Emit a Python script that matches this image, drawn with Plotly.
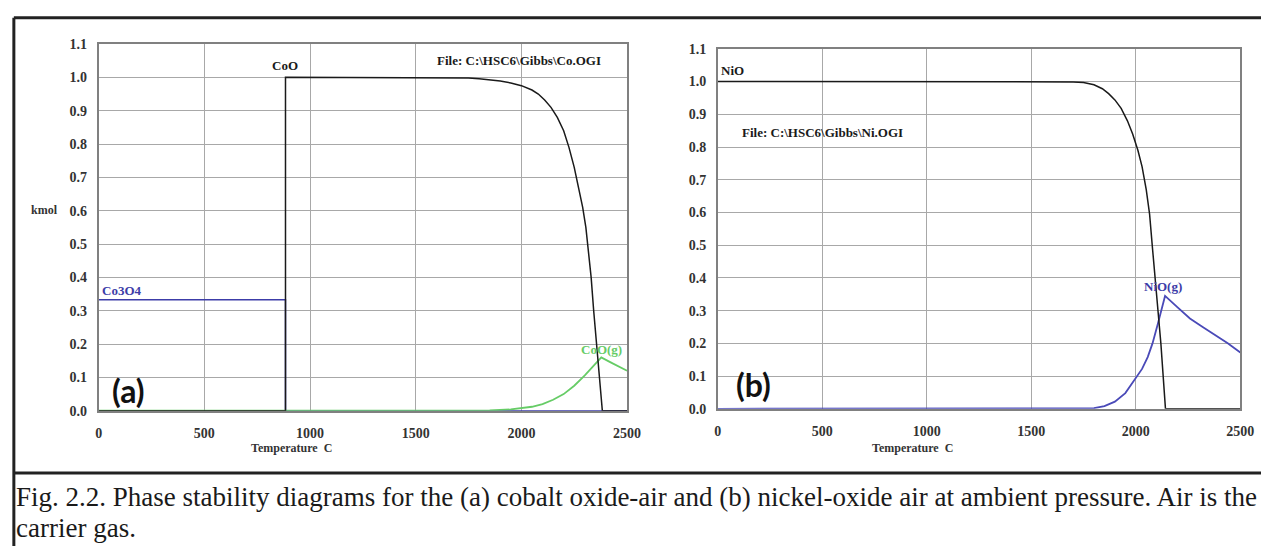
import plotly.graph_objects as go

# reference frame: 1275 x 554 pixels; everything is placed in paper fractions
W, H = 1275, 554

# ---------------- data (a) Co-O system ----------------
T_coo = [0, 884, 884, 1600, 1700, 1750, 1800, 1850, 1900, 1950, 2000, 2050, 2080, 2110, 2140, 2170, 2200, 2225, 2250, 2270, 2290, 2305, 2318, 2330, 2342, 2355, 2368, 2383, 2500]
coo = [0, 0, 1.0, 1.0, 0.999, 0.998, 0.996, 0.993, 0.989, 0.983, 0.975, 0.962, 0.950, 0.932, 0.91, 0.88, 0.84, 0.79, 0.73, 0.67, 0.61, 0.55, 0.48, 0.40, 0.30, 0.20, 0.10, 0.0, 0.0]

T_co3o4 = [0, 884, 884, 2500]
co3o4 = [0.333, 0.333, 0.0, 0.0]

T_coog = [0, 1750, 1850, 1950, 2000, 2050, 2100, 2150, 2200, 2250, 2300, 2340, 2378, 2420, 2460, 2500]
coog = [0, 0, 0.001, 0.004, 0.007, 0.012, 0.02, 0.033, 0.05, 0.075, 0.106, 0.135, 0.16, 0.146, 0.133, 0.12]

# ---------------- data (b) Ni-O system ----------------
T_nio = [0, 1600, 1700, 1750, 1800, 1840, 1870, 1900, 1930, 1960, 1985, 2010, 2030, 2050, 2066, 2080, 2094, 2108, 2120, 2131, 2142, 2500]
nio = [1.0, 1.0, 0.999, 0.997, 0.99, 0.978, 0.963, 0.944, 0.918, 0.88, 0.84, 0.79, 0.74, 0.67, 0.595, 0.49, 0.395, 0.30, 0.20, 0.10, 0.0, 0.0]

T_niog = [0, 1750, 1800, 1850, 1900, 1950, 2000, 2030, 2057, 2080, 2104, 2125, 2140, 2200, 2259, 2320, 2387, 2440, 2500]
niog = [0, 0, 0.002, 0.008, 0.022, 0.048, 0.092, 0.122, 0.158, 0.2, 0.256, 0.31, 0.345, 0.31, 0.276, 0.25, 0.223, 0.2, 0.172]

x_ticks = [0, 500, 1000, 1500, 2000, 2500]
y_ticks = [0.0, 0.1, 0.2, 0.3, 0.4, 0.5, 0.6, 0.7, 0.8, 0.9, 1.0, 1.1]

caption1 = "Fig. 2.2. Phase stability diagrams for the (a) cobalt oxide-air and (b) nickel-oxide air at ambient pressure. Air is the"
caption2 = "carrier gas."


def px(x):
    return x / W


def py(y):
    return 1 - y / H


BLACK = "#1a1a1a"
BLUE = "#3c3ca8"
GREEN = "#66cc66"
GRID = "#a8a8a8"
SERIF = "Liberation Serif"

fig = go.Figure()

# panel (a)
fig.add_trace(go.Scatter(x=T_co3o4, y=co3o4, mode="lines", line=dict(color=BLUE, width=1.5), xaxis="x", yaxis="y", showlegend=False))
fig.add_trace(go.Scatter(x=T_coog, y=coog, mode="lines", line=dict(color=GREEN, width=1.8), xaxis="x", yaxis="y", showlegend=False))
fig.add_trace(go.Scatter(x=T_coo, y=coo, mode="lines", line=dict(color=BLACK, width=1.5), xaxis="x", yaxis="y", showlegend=False))

# panel (b)
fig.add_trace(go.Scatter(x=T_niog, y=niog, mode="lines", line=dict(color="#4a4ab8", width=1.8), xaxis="x2", yaxis="y2", showlegend=False))
fig.add_trace(go.Scatter(x=T_nio, y=nio, mode="lines", line=dict(color=BLACK, width=1.5), xaxis="x2", yaxis="y2", showlegend=False))

tickfont = dict(family=SERIF, size=14, color="#333333", weight="bold")

axis_common = dict(
    showgrid=True, gridcolor=GRID, gridwidth=1,
    showline=True, linecolor="#808080", linewidth=1.5, mirror=True,
    zeroline=False, ticks="", tickfont=tickfont,
)

fig.update_layout(
    width=W, height=H,
    margin=dict(l=0, r=0, t=0, b=0),
    paper_bgcolor="white", plot_bgcolor="white",
    xaxis=dict(domain=[px(96), px(632)], range=[0, 2500], tickvals=x_ticks, anchor="y", ticklabelstandoff=9, **axis_common),
    yaxis=dict(domain=[py(415), py(38)], range=[0, 1.1], tickvals=y_ticks, tickformat=".1f", anchor="x", ticklabelstandoff=7, **axis_common),
    xaxis2=dict(domain=[px(724), px(1254)], range=[0, 2500], tickvals=x_ticks, anchor="y2", ticklabelstandoff=9, **axis_common),
    yaxis2=dict(domain=[py(413), py(43)], range=[0, 1.1], tickvals=y_ticks, tickformat=".1f", anchor="x2", ticklabelstandoff=7, **axis_common),
)

lab = dict(family=SERIF, size=13, weight="bold")
ann = [
    dict(x=881, y=1.035, xref="x", yref="y", text="CoO", font=dict(lab, color=BLACK)),
    dict(x=1990, y=1.05, xref="x", yref="y", text="File: C:\\HSC6\\Gibbs\\Co.OGI", font=dict(lab, color=BLACK)),
    dict(x=5, y=0.36, xref="x", yref="y", text="Co3O4", xanchor="left", font=dict(lab, color=BLUE)),
    dict(x=2380, y=0.185, xref="x", yref="y", text="CoO(g)", font=dict(lab, color=GREEN)),
    dict(x=140, y=0.062, xref="x", yref="y", text="(a)", font=dict(family="Lato", size=32, weight="bold", color="#111111")),
    dict(x=5, y=1.035, xref="x2", yref="y2", text="NiO", xanchor="left", font=dict(lab, color=BLACK)),
    dict(x=500, y=0.845, xref="x2", yref="y2", text="File: C:\\HSC6\\Gibbs\\Ni.OGI", font=dict(lab, color=BLACK)),
    dict(x=2132, y=0.375, xref="x2", yref="y2", text="NiO(g)", font=dict(lab, color=BLUE)),
    dict(x=170, y=0.075, xref="x2", yref="y2", text="(b)", font=dict(family="Lato", size=32, weight="bold", color="#111111")),
    dict(x=px(41), y=py(209), xref="paper", yref="paper", text="kmol", font=dict(family=SERIF, size=12, weight="bold", color="#333333")),
    dict(x=px(292), y=py(453), xref="paper", yref="paper", text="Temperature  C", font=dict(family=SERIF, size=12, weight="bold", color="#333333")),
    dict(x=px(922), y=py(453), xref="paper", yref="paper", text="Temperature  C", font=dict(family=SERIF, size=12, weight="bold", color="#333333")),
    dict(x=px(10), y=py(504), xref="paper", yref="paper", text=caption1, xanchor="left", font=dict(family=SERIF, size=27, color="#1a1a1a")),
    dict(x=px(10), y=py(536), xref="paper", yref="paper", text=caption2, xanchor="left", font=dict(family=SERIF, size=27, color="#1a1a1a")),
]
for a in ann:
    a.setdefault("showarrow", False)
    a.setdefault("xanchor", "center")
    a.setdefault("yanchor", "middle")
fig.update_layout(annotations=ann)

line = dict(color="#222222", width=3)
fig.update_layout(shapes=[
    dict(type="line", xref="paper", yref="paper", x0=px(10), x1=1, y0=py(11), y1=py(11), line=line),
    dict(type="line", xref="paper", yref="paper", x0=px(10), x1=px(10), y0=py(11), y1=0, line=line),
    dict(type="line", xref="paper", yref="paper", x0=px(10), x1=1, y0=py(479), y1=py(479), line=line),
])

fit_viewport = (
    "document.body.style.margin='0px';"
    "var gd=document.getElementById('{plot_id}');"
    "Plotly.relayout(gd,{width:window.innerWidth,height:window.innerHeight});"
)
fig.write_html("out.html", config={"displayModeBar": False}, post_script=fit_viewport)
